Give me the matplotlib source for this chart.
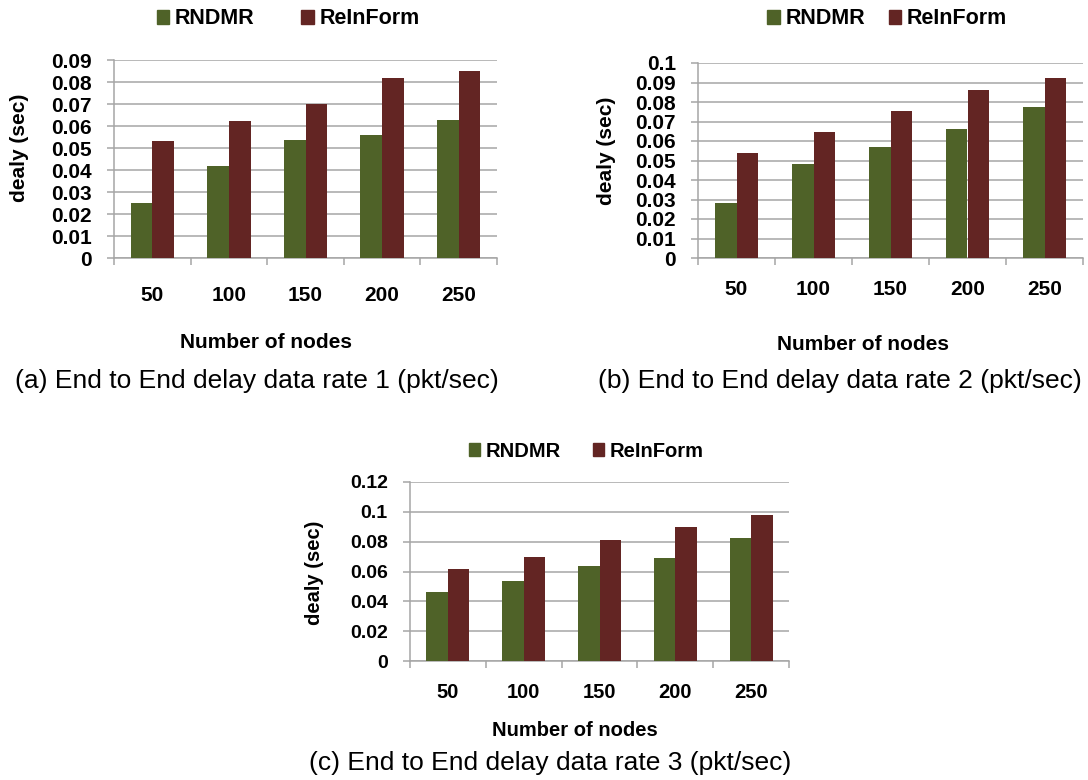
import matplotlib as mpl
mpl.use('Agg')
import matplotlib.pyplot as plt
from matplotlib.patches import Patch
import numpy as np

plt.rcParams['font.family'] = ['Liberation Sans', 'DejaVu Sans']

W, H = 1088, 780

nodes = ['50', '100', '150', '200', '250']

# end to end delay (sec) per data rate
rndmr_rate1 = [0.025, 0.042, 0.0535, 0.0557, 0.0628]
reinform_rate1 = [0.053, 0.0622, 0.0699, 0.0818, 0.0852]

rndmr_rate2 = [0.0281, 0.0484, 0.0569, 0.0659, 0.0775]
reinform_rate2 = [0.054, 0.0646, 0.0753, 0.086, 0.0922]

rndmr_rate3 = [0.0463, 0.0534, 0.0639, 0.069, 0.0827]
reinform_rate3 = [0.0619, 0.0697, 0.0813, 0.0898, 0.0977]

GREEN = '#4f6228'
RED = '#632523'
GRID = '#a6a6a6'
BAR_W = 0.283


def fx(x):
    return x / W


def fy(y):
    return 1 - y / H


def px_box(left, top, right, bottom):
    return [left / W, 1 - bottom / H, (right - left) / W, (bottom - top) / H]


def draw_panel(fig, p):
    ax = fig.add_axes(px_box(*p['box']))
    x = np.arange(len(nodes))
    ax.bar(x - BAR_W / 2, p['rndmr'], BAR_W, color=GREEN, zorder=3)
    ax.bar(x + BAR_W / 2, p['reinform'], BAR_W, color=RED, zorder=3)

    ax.set_xlim(-0.5, len(nodes) - 0.5)
    ax.set_ylim(0, p['ymax'])
    yt = np.round(np.arange(0, p['ymax'] + p['ystep'] / 2, p['ystep']), 3)
    ax.set_yticks(yt)
    ax.set_yticklabels(['%g' % v for v in yt], fontsize=p['tick_fs'],
                       fontweight='bold')
    ax.set_xticks(x)
    ax.set_xticklabels(nodes, fontsize=p['xtick_fs'], fontweight='bold')
    ax.set_xticks(np.arange(-0.5, len(nodes)), minor=True)

    ax.tick_params(axis='y', direction='out', length=5, width=1.1,
                   color=GRID, pad=p['ypad'])
    ax.tick_params(axis='x', which='major', length=0, pad=p['xpad'])
    ax.tick_params(axis='x', which='minor', direction='out', length=5,
                   width=1.1, color=GRID)

    ax.grid(axis='y', color=GRID, linewidth=1.1, zorder=0)
    ax.set_axisbelow(True)
    for side in ['top', 'right']:
        ax.spines[side].set_visible(False)
    for side in ['left', 'bottom']:
        ax.spines[side].set_color(GRID)
        ax.spines[side].set_linewidth(1.1)

    handles = [Patch(color=GREEN), Patch(color=RED)]
    ax.legend(handles, ['RNDMR', 'ReInForm'], loc='center',
              bbox_to_anchor=(fx(p['leg'][0]), fy(p['leg'][1])),
              bbox_transform=fig.transFigure, ncol=2, frameon=False,
              handlelength=0.58, handleheight=0.58, handletextpad=0.25,
              columnspacing=p['colsp'],
              prop={'weight': 'bold', 'size': p['leg_fs']})

    fig.text(fx(p['ylab'][0]), fy(p['ylab'][1]), 'dealy (sec)', rotation=90,
             ha='center', va='center', fontsize=p['lab_fs'], fontweight='bold')
    fig.text(fx(p['xlab'][0]), fy(p['xlab'][1]), 'Number of nodes',
             ha='center', va='center', fontsize=p['lab_fs'], fontweight='bold')
    fig.text(fx(p['cap'][0]), fy(p['cap'][1]), p['caption'],
             ha='center', va='center', fontsize=19)


panels = [
    dict(box=(114, 60, 497, 258), rndmr=rndmr_rate1, reinform=reinform_rate1,
         ymax=0.09, ystep=0.01, tick_fs=15, xtick_fs=15, ypad=11, xpad=20,
         leg=(288, 19), colsp=2.2, leg_fs=15.5,
         ylab=(20, 148), xlab=(266, 342), lab_fs=15,
         cap=(257, 381), caption='(a) End to End delay data rate 1 (pkt/sec)'),
    dict(box=(698, 63, 1083, 258), rndmr=rndmr_rate2, reinform=reinform_rate2,
         ymax=0.1, ystep=0.01, tick_fs=15, xtick_fs=15, ypad=11, xpad=16,
         leg=(887, 19), colsp=1.1, leg_fs=15.5,
         ylab=(607, 151), xlab=(863, 345), lab_fs=15,
         cap=(840, 381), caption='(b) End to End delay data rate 2 (pkt/sec)'),
    dict(box=(410, 482, 789, 661), rndmr=rndmr_rate3, reinform=reinform_rate3,
         ymax=0.12, ystep=0.02, tick_fs=14, xtick_fs=14.5, ypad=11, xpad=16,
         leg=(586, 451), colsp=1.6, leg_fs=14.5,
         ylab=(314, 573), xlab=(575, 731), lab_fs=14.5,
         cap=(550, 763), caption='(c) End to End delay data rate 3 (pkt/sec)'),
]

fig = plt.figure(figsize=(W / 100, H / 100), dpi=100)
for p in panels:
    draw_panel(fig, p)

plt.savefig('out.png', dpi=100)
plt.close()
